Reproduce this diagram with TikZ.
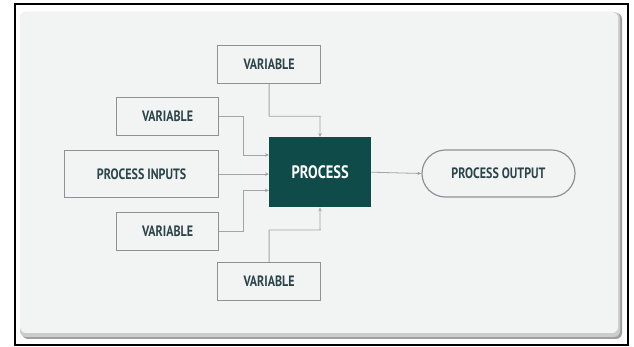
\documentclass[tikz,border=0pt]{standalone}
\usepackage{fontspec}
\setmainfont{PT Sans}[FakeStretch=0.8]
\usetikzlibrary{arrows.meta,shapes.misc,calc}
\definecolor{panel}{HTML}{F2F3F3}
\definecolor{boxline}{HTML}{8C9293}
\definecolor{conn}{HTML}{A3A6A6}
\definecolor{proc}{HTML}{0F4B49}
\definecolor{txt}{HTML}{2A444A}
\begin{document}
\begin{tikzpicture}[x=1pt,y=1pt,
  box/.style={draw=boxline,line width=1.2pt,fill=panel,text=txt,font=\bfseries\fontsize{15}{15}\selectfont,inner sep=0pt,anchor=north west},
  conn/.style={draw=conn,line width=0.8pt,-{Stealth[length=4pt,width=3.5pt]}}]
\useasboundingbox (0,0) rectangle (634,347);
\fill[white] (0,0) rectangle (634,347);
% outer frame
\draw[black,line width=2.8pt] (15,2) rectangle (628,343);
% shadow + panel
\fill[gray!75,rounded corners=6pt] (22,8) rectangle (622,334);
\fill[gray!40,rounded corners=6pt] (20,10) rectangle (620,335);
\fill[panel,rounded corners=6pt] (20,14) rectangle (618,335);
% nodes
\node[box,minimum width=103,minimum height=38] (vt) at (217,302) {VARIABLE};
\node[box,minimum width=102,minimum height=38] (vl1) at (116,250) {VARIABLE};
\node[box,minimum width=154,minimum height=47] (pin) at (64,197) {PROCESS INPUTS};
\node[box,minimum width=102,minimum height=38] (vl2) at (116,135) {VARIABLE};
\node[box,minimum width=103,minimum height=38] (vb) at (217,85) {VARIABLE};
\node[fill=proc,text=white,font=\bfseries\fontsize{18}{18}\selectfont,minimum width=102,minimum height=70,inner sep=0pt,anchor=north west] (p) at (269,210) {PROCESS};
\node[box,rounded rectangle,minimum width=153,minimum height=47,anchor=center] (out) at (498.5,173.5) {PROCESS OUTPUT};
% connectors
\coordinate (jt) at ($(vt.south)+(0,-32)$);
\draw[conn] (vt.south) |- ([xshift=51pt]jt) -- ([xshift=51pt]p.north west);
\draw[conn] (vl1.east) -| ([xshift=-26pt,yshift=-18pt]p.north west) -- ([yshift=-18pt]p.north west);
\draw[conn] (pin.east) -- (pin.east -| p.west);
\draw[conn] (vl2.east) -| ([xshift=-26pt,yshift=17pt]p.south west) -- ([yshift=17pt]p.south west);
\coordinate (jb) at ($(vb.north)+(0,32)$);
\draw[conn] (vb.north) |- ([xshift=51pt]jb) -- ([xshift=51pt]p.south west);
\draw[conn] (p.east) -- (out.west);
\end{tikzpicture}
\end{document}
